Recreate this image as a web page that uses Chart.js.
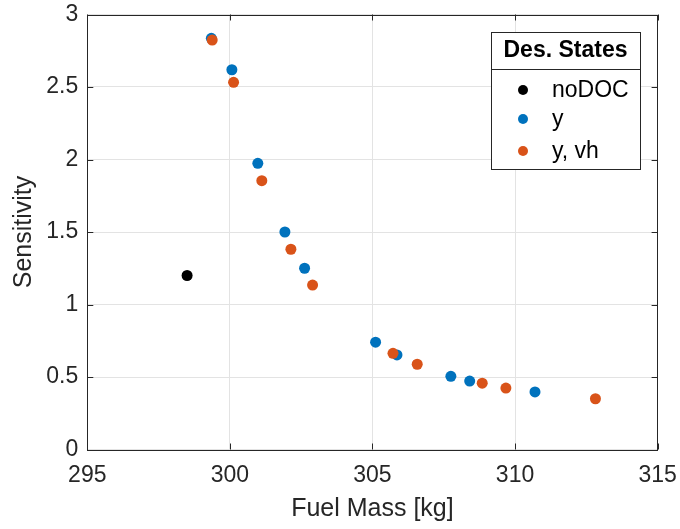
<!DOCTYPE html>
<html>
<head>
<meta charset="utf-8">
<script src="https://cdn.jsdelivr.net/npm/chart.js@4"></script>
<style>
  html, body { margin: 0; padding: 0; background: #fff; }
  #wrap { width: 680px; height: 529px; }
</style>
</head>
<body>
<div id="wrap"><canvas id="sensChart" width="680" height="529"></canvas></div>
<script>
// ===== data =====
const xTicks = [295, 300, 305, 310, 315];
const yTicks = [0, 0.5, 1, 1.5, 2, 2.5, 3];

const seriesNames = ['noDOC', 'y', 'y, vh'];
const seriesColors = ['#000000', '#0072BD', '#D95319'];

const noDocMass = [298.5];
const noDocSens = [1.2];

const yMass = [299.35, 300.07, 300.98, 301.93, 302.62, 305.11, 305.86, 307.75, 308.41, 310.70];
const ySens = [2.836, 2.619, 1.974, 1.50, 1.25, 0.740, 0.652, 0.505, 0.472, 0.397];

const yvhMass = [299.38, 300.13, 301.12, 302.14, 302.90, 305.72, 306.57, 308.85, 309.68, 312.82];
const yvhSens = [2.824, 2.532, 1.854, 1.381, 1.134, 0.663, 0.588, 0.457, 0.424, 0.350];

const FONT = "'Liberation Sans', Arial, Helvetica, sans-serif";
const AXIS_COLOR = '#262626';

function pts(xs, ys) {
  return xs.map((x, i) => ({ x: x, y: ys[i] }));
}

// box round the axes with inward ticks, like MATLAB
const framePlugin = {
  id: 'frame',
  afterDatasetsDraw(chart) {
    const { ctx, chartArea: a, scales } = chart;
    ctx.save();
    ctx.strokeStyle = AXIS_COLOR;
    ctx.lineWidth = 1;
    ctx.beginPath();
    xTicks.forEach(v => {
      const px = Math.round(scales.x.getPixelForValue(v)) + 0.5;
      ctx.moveTo(px, a.bottom); ctx.lineTo(px, a.bottom - 6);
      ctx.moveTo(px, a.top); ctx.lineTo(px, a.top + 6);
    });
    yTicks.forEach(v => {
      const py = Math.round(scales.y.getPixelForValue(v)) + 0.5;
      ctx.moveTo(a.left, py); ctx.lineTo(a.left + 6, py);
      ctx.moveTo(a.right, py); ctx.lineTo(a.right - 6, py);
    });
    ctx.stroke();
    ctx.strokeRect(Math.round(a.left) + 0.5, Math.round(a.top) + 0.5,
      Math.round(a.right - a.left), Math.round(a.bottom - a.top));
    ctx.restore();
  },
  afterDraw(chart) {
    // legend box in the upper right corner
    const { ctx } = chart;
    const bx = 491, by = 32, bw = 149, bh = 137;
    ctx.save();
    ctx.fillStyle = '#fff';
    ctx.fillRect(bx, by, bw, bh);
    ctx.strokeStyle = '#262626';
    ctx.lineWidth = 1;
    ctx.strokeRect(bx + 0.5, by + 0.5, bw, bh);
    ctx.beginPath();
    ctx.moveTo(bx, by + 37.5); ctx.lineTo(bx + bw, by + 37.5);
    ctx.stroke();
    ctx.fillStyle = '#000';
    ctx.textBaseline = 'middle';
    ctx.textAlign = 'center';
    ctx.font = 'bold 23px ' + FONT;
    ctx.fillText('Des. States', bx + bw / 2, by + 19);
    ctx.textAlign = 'left';
    ctx.font = '23px ' + FONT;
    const rows = [90, 119, 151];
    seriesNames.forEach((name, i) => {
      ctx.fillStyle = seriesColors[i];
      ctx.beginPath();
      ctx.arc(523, rows[i], 5, 0, Math.PI * 2);
      ctx.fill();
      ctx.fillStyle = '#000';
      ctx.fillText(name, 552, rows[i] + 1);
    });
    ctx.restore();
  }
};

new Chart(document.getElementById('sensChart'), {
  type: 'scatter',
  data: {
    datasets: [
      {
        label: seriesNames[0],
        data: pts(noDocMass, noDocSens),
        backgroundColor: seriesColors[0],
        borderWidth: 0,
        pointRadius: 5.5,
        order: 3
      },
      {
        label: seriesNames[1],
        data: pts(yMass, ySens),
        backgroundColor: seriesColors[1],
        borderWidth: 0,
        pointRadius: 5.5,
        order: 2
      },
      {
        label: seriesNames[2],
        data: pts(yvhMass, yvhSens),
        backgroundColor: seriesColors[2],
        borderWidth: 0,
        pointRadius: 5.5,
        order: 1
      }
    ]
  },
  options: {
    responsive: false,
    animation: false,
    layout: { padding: { left: 0, top: 14.5, right: 22.4, bottom: 0 } },
    plugins: {
      legend: { display: false },
      tooltip: { enabled: false }
    },
    scales: {
      x: {
        type: 'linear',
        min: 295, max: 315,
        afterFit: s => { s.height = 79.5; s.paddingLeft = 0; s.paddingRight = 0; },
        afterBuildTicks: s => { s.ticks = xTicks.map(v => ({ value: v })); },
        grid: { color: '#e3e3e3', drawTicks: false },
        border: { display: false },
        ticks: { color: AXIS_COLOR, font: { family: FONT, size: 23 }, padding: 12, maxRotation: 0,
          callback: v => String(v) },
        title: { display: true, text: 'Fuel Mass [kg]', color: AXIS_COLOR,
          font: { family: FONT, size: 25, lineHeight: 1.2 }, padding: { top: 0, bottom: 5 } }
      },
      y: {
        type: 'linear',
        min: 0, max: 3,
        afterFit: s => { s.width = 87.3; s.paddingTop = 0; s.paddingBottom = 0; },
        afterBuildTicks: s => { s.ticks = yTicks.map(v => ({ value: v })); },
        grid: { color: '#e3e3e3', drawTicks: false },
        border: { display: false },
        ticks: { color: AXIS_COLOR, font: { family: FONT, size: 23 }, padding: 9,
          callback: v => String(v) },
        title: { display: true, text: 'Sensitivity', color: AXIS_COLOR,
          font: { family: FONT, size: 25, lineHeight: 1.2 }, padding: { top: 9, bottom: 0 } }
      }
    }
  },
  plugins: [framePlugin]
});
</script>
</body>
</html>
